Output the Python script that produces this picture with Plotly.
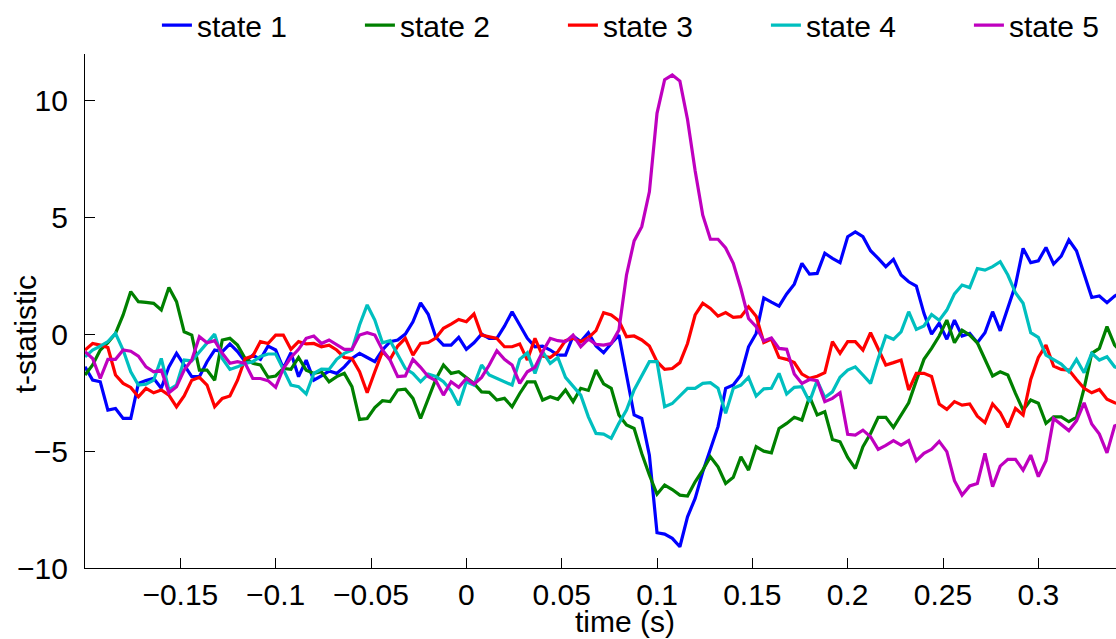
import numpy as np
import plotly.graph_objects as go

# time grid (s): sampled every 4 ms starting at -0.2 s
t_start = -0.2
t_step = 0.004
n_samples = 137
time_s = np.round(t_start + t_step * np.arange(n_samples), 4)

state1 = [-1.39, -1.96, -2.03, -3.24, -3.17, -3.6, -3.6, -2.1, -1.98, -1.88,
          -2.31, -1.39, -0.81, -1.31, -1.81, -1.81, -1.17, -0.67, -0.74, -0.41,
          -0.74, -1.17, -0.89, -1.07, -0.5, -0.67, -1.46, -0.79, -1.81, -1.1,
          -1.96, -1.78, -1.57, -1.67, -1.39, -1.03, -0.81, -0.99, -1.17, -0.67,
          -0.31, -0.24, 0.01, 0.54, 1.35, 0.86, -0.12, -0.46, -0.46, -0.13,
          -0.64, -0.36, 0.01, -0.17, -0.17, 0.35, 0.97, 0.4, -0.17, -0.53,
          -0.5, -0.67, -0.89, -0.89, -0.07, -0.31, 0.07, -0.5, -0.79, -0.39,
          -0.03, -1.74, -3.45, -3.6, -5.17, -8.49, -8.55, -8.73, -9.09, -7.81,
          -7.02, -5.88, -4.92, -3.95, -2.31, -2.17, -1.74, -0.53, 0.04, 1.56,
          1.38, 1.21, 1.73, 2.15, 3.04, 2.58, 2.61, 3.47, 3.25, 3.07,
          4.18, 4.39, 4.18, 3.58, 3.25, 2.9, 3.21, 2.54, 2.25, 2.07,
          0.9, 0.01, 0.48, -0.21, 0.61, -0.07, 0.04, -0.36, 0.07, 0.97,
          0.15, 1.15, 2.11, 3.68, 3.07, 3.15, 3.72, 3.01, 3.35, 4.04,
          3.58, 2.58, 1.58, 1.64, 1.36, 1.64, 1.8]

state2 = [-1.74, -1.31, -0.67, -0.36, 0.04, 0.83, 1.83, 1.4, 1.37, 1.33,
          1.04, 2.01, 1.4, 0.11, -0.03, -1.53, -1.53, -1.96, -0.24, -0.17,
          -0.46, -1.03, -1.24, -1.31, -1.84, -1.78, -1.46, -1.5, -0.99, -1.53,
          -1.67, -1.6, -2.03, -1.81, -1.67, -2.24, -3.64, -3.6, -3.13, -2.84,
          -2.88, -2.38, -2.35, -2.74, -3.6, -2.8, -1.92, -1.31, -1.67, -1.6,
          -1.84, -2.1, -2.46, -2.48, -2.81, -2.74, -3.1, -2.53, -2.03, -2.03,
          -2.81, -2.67, -2.78, -2.38, -2.88, -2.31, -2.4, -1.53, -2.12, -2.31,
          -3.45, -3.88, -4.03, -5.1, -6.02, -6.84, -6.45, -6.64, -6.88, -6.92,
          -6.31, -5.81, -5.24, -5.67, -6.38, -6.12, -5.24, -5.81, -4.81, -5.0,
          -5.07, -4.03, -3.81, -3.55, -3.67, -2.67, -3.45, -3.31, -4.5, -4.6,
          -5.27, -5.74, -4.81, -4.24, -3.55, -3.55, -3.98, -3.45, -2.93, -1.98,
          -1.07, -0.6, -0.07, 0.61, -0.36, 0.18, -0.03, -0.36, -1.1, -1.78,
          -1.6, -1.74, -2.53, -3.24, -2.81, -2.95, -3.81, -3.53, -3.53, -3.74,
          -3.55, -2.31, -0.81, -0.6, 0.33, -0.46, -0.8]

state3 = [-0.67, -0.39, -0.46, -0.56, -1.74, -2.1, -2.27, -2.67, -2.31, -2.5,
          -2.38, -2.6, -3.1, -2.64, -1.96, -1.84, -2.17, -3.1, -2.74, -2.64,
          -1.96, -1.03, -0.93, -0.31, -0.39, -0.03, -0.03, -0.64, -0.31, -0.41,
          -0.39, -0.53, -0.46, -0.67, -0.99, -1.03, -1.6, -2.5, -1.6, -0.74,
          -1.07, -0.5, -0.17, -0.89, -0.39, -0.35, -0.16, 0.26, 0.44, 0.64,
          0.54, 0.87, -0.03, -0.1, -0.17, -0.53, -0.53, -0.41, -1.1, -0.17,
          -0.93, -0.99, -0.74, -0.27, -0.17, -0.31, -0.14, 0.16, 0.93, 0.83,
          0.58, -0.1, -0.07, -0.24, -0.5, -1.17, -1.5, -1.46, -1.21, -0.39,
          0.83, 1.33, 1.11, 0.78, 0.93, 0.73, 0.76, 1.18, 0.78, -0.35,
          -0.2, -0.99, -1.07, -1.21, -1.7, -1.88, -1.79, -1.64, -0.31, -0.81,
          -0.31, -0.31, -0.67, 0.07, -0.6, -1.31, -1.21, -1.1, -2.38, -1.67,
          -1.67, -1.8, -2.98, -3.21, -2.88, -3.03, -2.98, -3.5, -3.78, -2.98,
          -3.35, -3.98, -3.17, -3.45, -1.93, -0.99, -0.46, -1.36, -1.5, -1.53,
          -1.93, -2.31, -2.5, -2.36, -2.78, -2.93, -3.0]

state4 = [-0.96, -0.67, -0.5, -0.31, 0.04, -0.67, -1.6, -2.17, -2.13, -1.96,
          -1.03, -2.38, -2.17, -1.1, -1.13, -0.74, -0.39, 0.01, -1.03, -1.5,
          -1.39, -1.24, -1.17, -0.95, -0.84, -0.84, -1.5, -2.17, -2.24, -2.55,
          -1.67, -1.49, -1.5, -1.07, -0.81, -0.67, 0.4, 1.26, 0.61, -0.36,
          -0.27, -0.89, -1.46, -1.67, -2.03, -1.7, -1.8, -2.03, -2.41, -3.03,
          -2.03, -2.17, -1.31, -1.74, -1.89, -2.03, -2.17, -1.07, -0.79, -1.67,
          -0.74, -1.24, -0.99, -1.84, -2.21, -2.6, -3.53, -4.24, -4.27, -4.45,
          -3.81, -3.24, -2.38, -1.74, -1.17, -1.17, -3.1, -2.96, -2.64, -2.31,
          -2.31, -2.1, -2.07, -2.31, -3.38, -2.31, -2.17, -1.84, -2.64, -2.33,
          -2.31, -1.67, -2.55, -2.27, -2.24, -2.88, -1.98, -2.7, -2.46, -1.84,
          -1.53, -1.39, -1.74, -2.1, -1.03, -0.07, -0.21, 0.11, 0.97, 0.21,
          0.36, 0.85, 0.6, 1.04, 1.73, 2.11, 2.0, 2.82, 2.75, 2.9,
          3.11, 2.54, 1.78, 1.33, 0.07, -0.13, -0.89, -1.07, -1.27, -1.6,
          -1.07, -1.64, -0.81, -1.1, -0.96, -1.39, -1.5]

state5 = [-0.74, -1.03, -1.89, -1.07, -1.07, -0.67, -0.72, -0.93, -1.39, -1.6,
          -1.53, -2.5, -2.24, -1.53, -1.1, -0.1, -0.36, -0.27, -0.81, -1.24,
          -1.17, -1.24, -1.89, -1.89, -1.98, -2.27, -1.46, -0.99, -0.64, -0.17,
          -0.07, -0.39, -0.24, -0.46, -0.64, -0.64, -0.03, 0.07, -0.03, -0.67,
          -1.1, -1.81, -1.78, -1.07, -1.41, -1.8, -1.98, -2.6, -2.03, -2.27,
          -1.89, -2.13, -1.84, -1.31, -0.7, -1.07, -1.31, -2.1, -1.6, -1.41,
          -0.74, -0.17, -0.27, -0.31, -0.03, -0.53, -0.2, -0.43, -0.46, -0.39,
          0.18, 2.54, 4.0, 4.61, 6.1, 9.46, 10.9, 11.1, 10.84, 9.2,
          7.0, 5.1, 4.07, 4.07, 3.7, 3.04, 1.95, 0.68, 0.33, -0.28,
          -0.15, -0.6, -0.64, -1.7, -2.1, -1.93, -1.98, -2.88, -2.74, -2.5,
          -4.28, -4.31, -4.1, -4.38, -4.92, -4.75, -4.55, -4.74, -4.55, -5.41,
          -5.09, -4.92, -4.58, -5.02, -6.26, -6.88, -6.49, -6.38, -5.09, -6.52,
          -5.64, -5.35, -5.35, -5.81, -5.17, -6.09, -5.41, -3.6, -3.84, -4.12,
          -3.7, -2.93, -3.84, -4.27, -5.07, -3.92, -3.8]

series_names = ["state 1", "state 2", "state 3", "state 4", "state 5"]
series_values = [state1, state2, state3, state4, state5]
series_colors = ["#0000ff", "#008000", "#ff0000", "#00bfbf", "#bf00bf"]

x_tickvals = [-0.15, -0.1, -0.05, 0, 0.05, 0.1, 0.15, 0.2, 0.25, 0.3]
x_ticktext = ["\u22120.15", "\u22120.1", "\u22120.05", "0", "0.05", "0.1",
              "0.15", "0.2", "0.25", "0.3"]
y_tickvals = [-10, -5, 0, 5, 10]
y_ticktext = ["\u221210", "\u22125", "0", "5", "10"]

FONT = "Liberation Sans, Arial, sans-serif"
FS = 30

W, H = 1116, 639
ML, MR, MT, MB = 85, 0, 54, 71
plot_w = W - ML - MR
x_min = -0.2
px_per_unit = 1906.7
x_max = x_min + plot_w / px_per_unit

fig = go.Figure()
for name, vals, col in zip(series_names, series_values, series_colors):
    n = min(len(vals), len(time_s))
    fig.add_trace(go.Scatter(x=time_s[:n], y=vals[:n], mode="lines", name=name,
                             line=dict(color=col, width=3.2)))

fig.update_layout(
    width=W, height=H,
    margin=dict(l=ML, r=MR, t=MT, b=MB, pad=0, autoexpand=False),
    paper_bgcolor="white", plot_bgcolor="white",
    font=dict(family=FONT, size=FS, color="black"),
    showlegend=True,
    legend=dict(orientation="h", x=0.562, xanchor="center", y=1.056, yanchor="middle",
                font=dict(family=FONT, size=FS, color="black"),
                entrywidth=158, entrywidthmode="pixels",
                bgcolor="rgba(0,0,0,0)", tracegroupgap=0),
    xaxis=dict(range=[x_min, x_max], tickvals=x_tickvals, ticktext=x_ticktext,
               ticks="inside", ticklen=10, tickwidth=1.2, tickcolor="black",
               showline=True, linecolor="black", linewidth=1.3, mirror=False,
               showgrid=False, zeroline=False, ticklabelstandoff=0,
               tickfont=dict(family=FONT, size=FS, color="black")),
    yaxis=dict(range=[-10, 12], tickvals=y_tickvals, ticktext=y_ticktext,
               ticks="inside", ticklen=10, tickwidth=1.2, tickcolor="black",
               showline=True, linecolor="black", linewidth=1.3, mirror=False,
               showgrid=False, zeroline=False, ticklabelstandoff=10,
               tickfont=dict(family=FONT, size=FS, color="black")),
    annotations=[
        dict(text="time (s)", xref="paper", yref="paper", x=0.524, y=-0.105,
             xanchor="center", yanchor="middle", showarrow=False,
             font=dict(family=FONT, size=FS, color="black")),
        dict(text="t-statistic", xref="paper", yref="paper", x=-0.058, y=0.455,
             xanchor="center", yanchor="middle", showarrow=False, textangle=-90,
             font=dict(family=FONT, size=FS, color="black")),
    ],
)

fig.write_html("out.html")
